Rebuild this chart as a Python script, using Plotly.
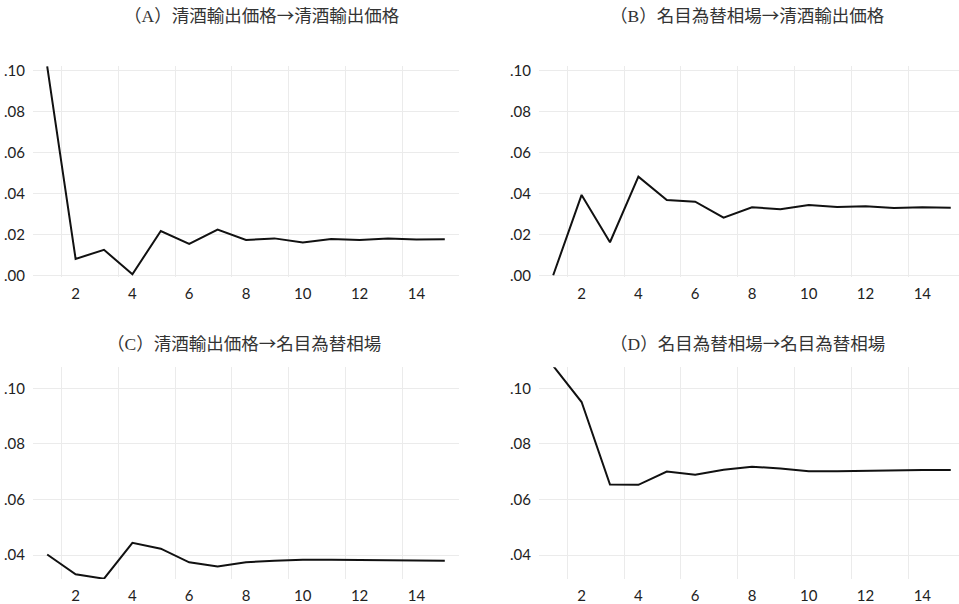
import plotly.graph_objects as go

periods = list(range(1, 16))

# (A) 清酒輸出価格→清酒輸出価格
sake_to_sake = [0.102, 0.0080, 0.0124, 0.0005, 0.0216, 0.0153, 0.0223, 0.0172,
                0.0180, 0.0160, 0.0177, 0.0172, 0.0179, 0.0174, 0.0176]
# (B) 名目為替相場→清酒輸出価格
fx_to_sake = [0.0000, 0.0392, 0.0161, 0.0481, 0.0367, 0.0359, 0.0281, 0.0332,
              0.0322, 0.0343, 0.0333, 0.0337, 0.0328, 0.0332, 0.0330]
# (C) 清酒輸出価格→名目為替相場
sake_to_fx = [0.0402, 0.0331, 0.0315, 0.0444, 0.0423, 0.0374, 0.0359, 0.0374,
              0.0380, 0.0383, 0.0383, 0.0382, 0.0380, 0.0380, 0.0380]
# (D) 名目為替相場→名目為替相場
fx_to_fx = [0.1081, 0.0951, 0.0654, 0.0653, 0.0701, 0.0689, 0.0707, 0.0718,
            0.0712, 0.0702, 0.0702, 0.0704, 0.0706, 0.0706, 0.0706]

title_labels = ["（A）", "（B）", "（C）", "（D）"]
title_texts = ["清酒輸出価格→清酒輸出価格",
               "名目為替相場→清酒輸出価格",
               "清酒輸出価格→名目為替相場",
               "名目為替相場→名目為替相場"]

x_tickvals = [2, 4, 6, 8, 10, 12, 14]
x_gridvals = [1.5, 3.5, 5.5, 7.5, 9.5, 11.5, 13.5]
y_tickvals_top = [0.00, 0.02, 0.04, 0.06, 0.08, 0.10]
y_ticktext_top = [".00", ".02", ".04", ".06", ".08", ".10"]
y_tickvals_bot = [0.04, 0.06, 0.08, 0.10]
y_ticktext_bot = [".04", ".06", ".08", ".10"]

W, H = 959, 604
GRID = "#ebebeb"
TICKFONT = dict(family="Lato, Open Sans, sans-serif", size=15, color="#222222")

fig = go.Figure()
series = [sake_to_sake, fx_to_sake, sake_to_fx, fx_to_fx]
for i, ys in enumerate(series):
    sfx = "" if i == 0 else str(i + 1)
    fig.add_trace(go.Scatter(x=periods, y=ys, mode="lines",
                             line=dict(color="#111111", width=2),
                             xaxis="x" + sfx, yaxis="y" + sfx,
                             showlegend=False, hoverinfo="x+y"))

left_dom = [33 / W, 459 / W]
right_dom = [539 / W, 1.0]
top_dom = [1 - 277.3 / H, 1 - 65.7 / H]
bot_dom = [1 - 579 / H, 1 - 367.3 / H]

def xax(dom, rng, anchor):
    return dict(domain=dom, range=rng, anchor=anchor, automargin=False,
                tickmode="array", tickvals=x_tickvals,
                showgrid=False, zeroline=False, showline=False,
                ticks="outside", ticklen=3, tickcolor="rgba(0,0,0,0)",
                tickfont=TICKFONT,
                minor=dict(tickmode="array", tickvals=x_gridvals,
                           showgrid=True, gridcolor=GRID, gridwidth=1,
                           ticks=""))

def yax(dom, rng, anchor, tv, tt):
    return dict(domain=dom, range=rng, anchor=anchor, automargin=False,
                tickmode="array", tickvals=tv, ticktext=tt,
                showgrid=True, gridcolor=GRID, gridwidth=1,
                zeroline=False, showline=False,
                ticks="outside", ticklen=4, tickcolor="rgba(0,0,0,0)",
                tickfont=TICKFONT)

top_rng = [-0.001, 0.1023]
bot_rng = [0.0314, 0.1076]

fig.update_layout(
    width=W, height=H,
    margin=dict(l=0, r=0, t=0, b=0),
    paper_bgcolor="white", plot_bgcolor="white",
    xaxis=xax(left_dom, [0.5, 15.5], "y"),
    yaxis=yax(top_dom, top_rng, "x", y_tickvals_top, y_ticktext_top),
    xaxis2=xax(right_dom, [0.5, 15.29], "y2"),
    yaxis2=yax(top_dom, top_rng, "x2", y_tickvals_top, y_ticktext_top),
    xaxis3=xax(left_dom, [0.5, 15.5], "y3"),
    yaxis3=yax(bot_dom, bot_rng, "x3", y_tickvals_bot, y_ticktext_bot),
    xaxis4=xax(right_dom, [0.5, 15.29], "y4"),
    yaxis4=yax(bot_dom, bot_rng, "x4", y_tickvals_bot, y_ticktext_bot),
)

title_pos = [(262, 15), (747, 15), (244, 342), (747, 342)]
for lab, t, (px, py) in zip(title_labels, title_texts, title_pos):
    txt = ('<span style="font-family:\'Liberation Serif\', \'Noto Sans CJK JP\'">'
           + lab + '</span>' + t)
    fig.add_annotation(text=txt, x=px / W, y=1 - py / H, xref="paper", yref="paper",
                       xanchor="center", yanchor="middle", showarrow=False,
                       font=dict(family="Noto Sans CJK JP", size=17.5,
                                 color="#333333"))

fig.write_html("out.html",
               config={"displayModeBar": False},
               post_script="document.body.style.margin='0';"
                           "document.body.style.overflow='hidden';")
